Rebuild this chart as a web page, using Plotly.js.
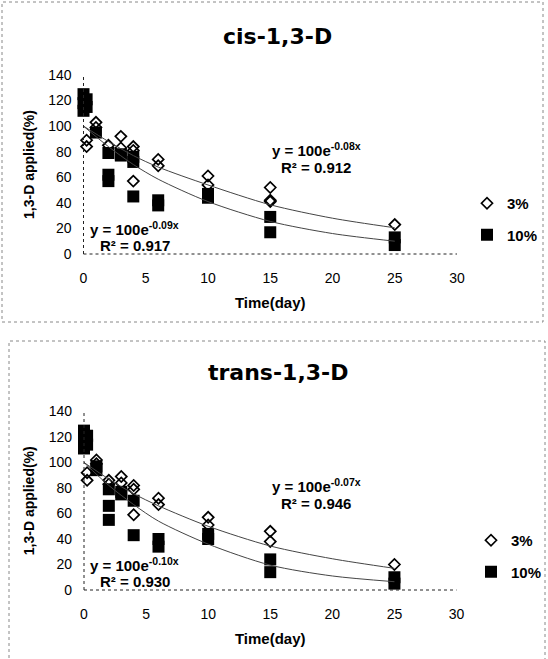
<!DOCTYPE html>
<html><head><meta charset="utf-8">
<script src="https://cdn.plot.ly/plotly-3.0.1.min.js"></script>
<style>html,body{margin:0;padding:0;background:#fff}</style>
</head><body><div id="chart" style="width:548px;height:659px"></div>
<script>
// ---- cis-1,3-D ----
const cis3X  = [0.25, 0.25, 1, 1, 2, 3, 3, 4, 4, 4, 6, 6, 10, 10, 15, 15, 15, 25];
const cis3Y  = [84, 89, 103, 99, 85, 92, 83, 84, 81, 57, 74, 69, 61, 54, 52, 42, 41, 23];
const cis10X = [0, 0, 0, 0.25, 0.25, 1, 2, 2, 2, 3, 3, 4, 4, 4, 6, 6, 10, 10, 15, 15, 25, 25];
const cis10Y = [125, 118, 112, 121, 115, 95, 79, 62, 57, 78, 77, 76, 72, 45, 42, 38, 47, 44, 29, 17, 13, 7];
const fitX   = [0, 2, 4, 6, 10, 15, 20, 25];
const cisFit3  = [100, 88, 77, 68, 54, 38.5, 28, 20.5];
const cisFit10 = [100, 84, 70, 58.5, 41, 25.5, 16, 10];
// ---- trans-1,3-D ----
const trans3X  = [0.25, 0.25, 1, 1, 2, 2, 3, 3, 4, 4, 4, 6, 6, 10, 10, 15, 15, 25];
const trans3Y  = [92, 86, 102, 99, 86, 83, 89, 84, 82, 79, 59, 72, 67, 57, 51, 46, 38, 20];
const trans10X = [0, 0, 0, 0.25, 0.25, 1, 1, 2, 2, 2, 3, 3, 4, 4, 6, 6, 10, 10, 15, 15, 25, 25];
const trans10Y = [125, 118, 111, 121, 114, 97, 94, 79, 66, 55, 77, 75, 70, 43, 40, 34, 44, 40, 24, 14, 10, 5];
const transFit3  = [100, 87, 75.5, 66, 50, 34.5, 24.5, 17];
const transFit10 = [100, 82, 67, 54, 36, 19.5, 11, 6.5];

const seriesNames = ['3%', '10%'];
const titles = ['cis-1,3-D', 'trans-1,3-D'];
const eqTexts = [
  ['y = 100e<sup>-0.08x</sup>', 'R² = 0.912', 'y = 100e<sup>-0.09x</sup>', 'R² = 0.917'],
  ['y = 100e<sup>-0.07x</sup>', 'R² = 0.946', 'y = 100e<sup>-0.10x</sup>', 'R² = 0.930']
];
const xTicks = [0, 5, 10, 15, 20, 25, 30];
const yTicks = [0, 20, 40, 60, 80, 100, 120, 140];

const W = 548, H = 659;
const px = v => v / W, py = v => 1 - v / H;
const FONT = 'Liberation Sans, Arial, sans-serif';

function markerTraces(x3, y3, x10, y10, xa, ya, lg) {
  return [
    {x: x3, y: y3, type: 'scatter', mode: 'markers', name: seriesNames[0], xaxis: xa, yaxis: ya,
     legend: lg, legendgroup: lg + 'a', cliponaxis: false,
     marker: {symbol: 'diamond-open', size: 8.5, color: '#000', line: {color: '#000', width: 1.7}}},
    {x: x10, y: y10, type: 'scatter', mode: 'markers', name: seriesNames[1], xaxis: xa, yaxis: ya,
     legend: lg, legendgroup: lg + 'b', cliponaxis: false,
     marker: {symbol: 'square', size: 12, color: '#000', line: {width: 0}}}
  ];
}
function fitTrace(y, xa, ya) {
  return {x: fitX, y: y, type: 'scatter', mode: 'lines', xaxis: xa, yaxis: ya, showlegend: false,
          hoverinfo: 'skip', line: {color: '#444', width: 1, shape: 'spline', smoothing: 0.8}};
}

const data = [
  ...markerTraces(cis3X, cis3Y, cis10X, cis10Y, 'x', 'y', 'legend'),
  fitTrace(cisFit3, 'x', 'y'), fitTrace(cisFit10, 'x', 'y'),
  ...markerTraces(trans3X, trans3Y, trans10X, trans10Y, 'x2', 'y2', 'legend2'),
  fitTrace(transFit3, 'x2', 'y2'), fitTrace(transFit10, 'x2', 'y2')
];

function xAxis(dom, anchor) {
  return {domain: dom, anchor: anchor, range: [0, 30], tickvals: xTicks, ticks: '', showgrid: false,
          zeroline: false, showline: false, ticklabelstandoff: 14,
          tickfont: {family: FONT, size: 14, color: '#000'},
          title: {text: 'Time(day)', standoff: 12, font: {family: FONT, size: 15, color: '#000', weight: 'bold'}}};
}
function yAxis(dom, anchor) {
  return {domain: dom, anchor: anchor, range: [0, 140], tickvals: yTicks, ticks: '', showgrid: false,
          zeroline: false, showline: false, ticklabelstandoff: 11,
          tickfont: {family: FONT, size: 14, color: '#000'},
          title: {text: '1,3-D applied(%)', standoff: 10, font: {family: FONT, size: 14, color: '#000', weight: 'bold'}}};
}

const eqFont = {family: FONT, size: 15, color: '#000', weight: 'bold'};
function eqAnns(texts, xa, ya) {
  const pos = [[18.7, 82], [18.7, 68], [4.1, 20], [4.1, 7]];
  return texts.map((t, i) => ({text: t, x: pos[i][0], y: pos[i][1], xref: xa, yref: ya,
    showarrow: false, xanchor: 'center', yanchor: 'middle', font: eqFont}));
}

const dotLine = {color: '#222', width: 1, dash: 'dot'};
const boxLine = {color: '#888', width: 1, dash: 'dot'};
function axisShapes(xa, ya) {
  return [
    {type: 'line', xref: xa + ' domain', yref: ya + ' domain', x0: 0, x1: 1, y0: 0, y1: 0, line: dotLine},
    {type: 'line', xref: xa + ' domain', yref: ya + ' domain', x0: 0, x1: 0, y0: 0, y1: 1, line: dotLine}
  ];
}

const legFont = {family: FONT, size: 15, color: '#000', weight: 'bold'};
const layout = {
  width: W, height: H, margin: {l: 0, r: 0, t: 0, b: 0},
  paper_bgcolor: '#fff', plot_bgcolor: 'rgba(0,0,0,0)',
  showlegend: true,
  xaxis: xAxis([px(83.5), px(457)], 'y'),
  yaxis: yAxis([py(254), py(75)], 'x'),
  xaxis2: xAxis([px(84), px(456.5)], 'y2'),
  yaxis2: yAxis([py(590), py(411.5)], 'x2'),
  legend: {x: px(467), y: py(187), xanchor: 'left', yanchor: 'top', traceorder: 'grouped', tracegroupgap: 9,
           bgcolor: 'rgba(0,0,0,0)', font: legFont},
  legend2: {x: px(471), y: py(524), xanchor: 'left', yanchor: 'top', traceorder: 'grouped', tracegroupgap: 9,
           bgcolor: 'rgba(0,0,0,0)', font: legFont},
  annotations: [
    {text: titles[0], xref: 'paper', yref: 'paper', x: px(277.5), y: py(36), xanchor: 'center', yanchor: 'middle',
     showarrow: false, font: {family: 'DejaVu Sans, sans-serif', size: 22, color: '#000', weight: 'bold'}},
    {text: titles[1], xref: 'paper', yref: 'paper', x: px(277.5), y: py(372), xanchor: 'center', yanchor: 'middle',
     showarrow: false, font: {family: 'DejaVu Sans, sans-serif', size: 22, color: '#000', weight: 'bold'}},
    ...eqAnns(eqTexts[0], 'x', 'y'),
    ...eqAnns(eqTexts[1], 'x2', 'y2')
  ],
  shapes: [
    {type: 'rect', xref: 'paper', yref: 'paper', x0: px(2), x1: px(543), y0: py(322), y1: py(2), line: boxLine},
    {type: 'rect', xref: 'paper', yref: 'paper', x0: px(9), x1: px(545), y0: py(665), y1: py(341), line: boxLine},
    ...axisShapes('x', 'y'),
    ...axisShapes('x2', 'y2')
  ]
};

Plotly.newPlot('chart', data, layout, {staticPlot: true, displayModeBar: false});
</script></body></html>
